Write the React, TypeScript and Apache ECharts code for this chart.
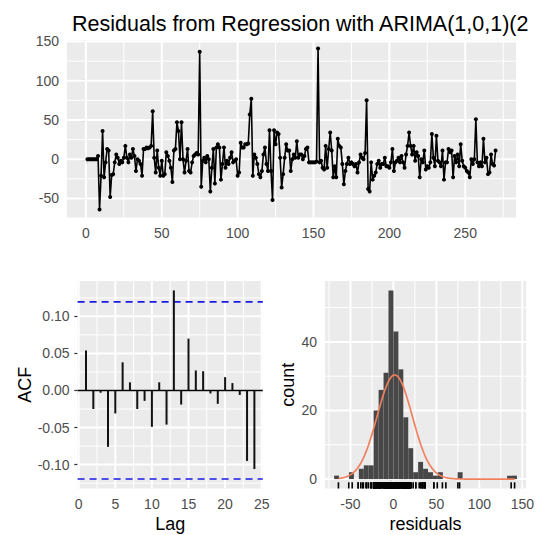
import React, { useEffect, useRef } from "react";
import * as echarts from "echarts";

// ---------- data ----------
const TITLE = "Residuals from Regression with ARIMA(1,0,1)(2";

const RESIDUALS = [
  0, 0, 0, 0, 0, 0, 0,
  4, -64, -21, 36, -23, -4, 13, 11, -48, -20,
  -19, -4, 6, 2, -6, -2, -4, 2, 17, 2,
  -4, 6, 2, 13, 4, -15, 0, -2, -6, -21,
  13, 13, 15, 14, 15, 17, 61, 2, -17, 11,
  -11, -21, -2, -21, -19, 9, 4, -2, -11, -29,
  11, 13, 47, 36, 0, 47, 0, -17, -2, 13,
  -15, -17, -4, 4, 6, 8, 6, 137, -35, -2,
  2, -4, 4, 0, -41, -11, 13, -31, 15, 19,
  15, -26, -6, 15, -11, -2, -6, 2, 9, -4,
  -2, 0, -21, -17, 21, 15, 15, 19, 19, 20,
  57, 77, -21, 6, 2, -6, -19, -23, -15, 6,
  15, -6, -15, 37, -15, -52, 37, 19, 34, 32,
  2, -36, -19, 2, 19, 11, 11, -15, 0, 6,
  2, 23, 2, 6, 6, 0, 4, 13, 15, -4,
  -4, -4, -4, -4, -3, 141, -4, -2, -11, -13,
  17, -11, 13, 34, 11, -23, -9, -23, 26, 17,
  15, -6, -32, -15, -6, 2, -6, -4, -6, -9,
  -6, -17, -4, 6, 2, 0, 8, 75, -38, -41,
  -4, -26, -21, -17, -6, -2, -11, -6, -6, 2,
  -9, -9, -11, -4, 13, -15, -4, -2, 2, -4,
  4, -4, -11, 6, 17, 34, 17, 6, 17, -2,
  9, 4, -23, 0, -4, 11, -13, -9, -11, -4,
  32, 2, -9, 30, -2, -4, -9, 11, -26, -4,
  -4, 13, 9, 11, -23, 4, -4, 6, -9, 19,
  -2, -9, -11, -15, -17, -23, 0, -6, 0, 51,
  -4, -9, -4, -9, 26, -4, 2, -19, -17, 6, -6, -8, 11,
];
const TIME_TICKS = [0, 50, 100, 150, 200, 250];
const TIME_MINOR = [25, 75, 125, 175, 225, 275];
const RESID_TICKS = [-50, 0, 50, 100, 150];
const RESID_MINOR = [-25, 25, 75, 125];

const ACF_LAGS = [1, 2, 3, 4, 5, 6, 7, 8, 9, 10, 11, 12, 13, 14, 15, 16, 17, 18, 19, 20, 21, 22, 23, 24];
const ACF_VALUES = [
  0.054, -0.025, -0.003, -0.076, -0.031, 0.038, 0.011, -0.025, -0.014, -0.049, 0.011, -0.046,
  0.135, -0.019, 0.070, 0.027, 0.026, -0.004, -0.018, 0.018, 0.010, -0.006, -0.095, -0.106,
];
const ACF_BOUND = 0.1195;
const LAG_TICKS = [0, 5, 10, 15, 20, 25];
const LAG_MINOR = [2.5, 7.5, 12.5, 17.5, 22.5];
const ACF_TICKS = [-0.1, -0.05, 0, 0.05, 0.1];
const ACF_MINOR = [-0.125, -0.075, -0.025, 0.025, 0.075, 0.125];

const HIST_BIN_WIDTH = 5.75;
const HIST_FIRST_BIN = -12;
const HIST_COUNTS = [
  1, 0, 0, 2, 0, 3, 4, 4, 20, 26, 31, 55, 43, 32, 18, 9, 2, 5, 3, 2, 1, 2,
  0, 0, 0, 2, 0, 0, 0, 0, 0, 0, 0, 0, 0, 1, 1,
];
const HIST_X_TICKS = [-50, 0, 50, 100, 150];
const HIST_X_MINOR = [-75, -25, 25, 75, 125];
const HIST_Y_TICKS = [0, 20, 40];
const HIST_Y_MINOR = [10, 30, 50];
const NORMAL_MEAN = 1.5;
const NORMAL_SD = 20.4;

// ---------- helpers ----------
const FONT = "'Liberation Sans', Arial, Helvetica, sans-serif";
const expand = (lo: number, hi: number): [number, number] => {
  const d = (hi - lo) * 0.05;
  return [lo - d, hi + d];
};

export default function App() {
  const ref = useRef<HTMLDivElement>(null);

  useEffect(() => {
    if (!ref.current) return;
    const chart = echarts.init(ref.current, undefined, { renderer: "svg" });

    const n = RESIDUALS.length;
    const rMin = Math.min(...RESIDUALS);
    const rMax = Math.max(...RESIDUALS);
    const [tx0, tx1] = expand(1, n);
    const [ty0, ty1] = expand(rMin, rMax);

    const [ax0, ax1] = expand(ACF_LAGS[0], ACF_LAGS[ACF_LAGS.length - 1]);
    const [ay0, ay1] = expand(
      Math.min(...ACF_VALUES, -ACF_BOUND),
      Math.max(...ACF_VALUES, ACF_BOUND)
    );

    const bins = HIST_COUNTS.map((c, i) => [
      (HIST_FIRST_BIN + i) * HIST_BIN_WIDTH,
      (HIST_FIRST_BIN + i + 1) * HIST_BIN_WIDTH,
      c,
    ]);
    const [hx0, hx1] = expand(
      Math.min(bins[0][0], rMin),
      Math.max(bins[bins.length - 1][1], rMax)
    );
    const [hy0, hy1] = expand(0, Math.max(...HIST_COUNTS));

    // normal density scaled to counts
    const nx0 = Math.min(NORMAL_MEAN - 3 * NORMAL_SD, rMin);
    const nx1 = Math.max(NORMAL_MEAN + 3 * NORMAL_SD, rMax);
    const normal: number[][] = [];
    for (let i = 0; i < 200; i++) {
      const x = nx0 + ((nx1 - nx0) * i) / 199;
      const z = (x - NORMAL_MEAN) / NORMAL_SD;
      const y = (n * HIST_BIN_WIDTH * Math.exp(-0.5 * z * z)) / (NORMAL_SD * Math.sqrt(2 * Math.PI));
      normal.push([x, y]);
    }

    const gridLines = (xMaj: number[], xMin: number[], yMaj: number[], yMin: number[]) => [
      ...xMin.map((v) => [v, 0, 0]),
      ...yMin.map((v) => [v, 1, 0]),
      ...xMaj.map((v) => [v, 0, 1]),
      ...yMaj.map((v) => [v, 1, 1]),
    ];
    const gridSeries = (idx: number, data: number[][], xRef: number, yRef: number) => ({
      type: "custom",
      xAxisIndex: idx,
      yAxisIndex: idx,
      z: 1,
      silent: true,
      data,
      renderItem: (params: any, api: any) => {
        const v = api.value(0);
        const orient = api.value(1);
        const major = api.value(2);
        const cs = params.coordSys;
        const style = { stroke: "#ffffff", lineWidth: major ? 2 : 1 };
        if (orient === 0) {
          const x = api.coord([v, yRef])[0];
          return { type: "line", shape: { x1: x, y1: cs.y, x2: x, y2: cs.y + cs.height }, style };
        }
        const y = api.coord([xRef, v])[1];
        return { type: "line", shape: { x1: cs.x, y1: y, x2: cs.x + cs.width, y2: y }, style };
      },
    });

    const axisCommon = (idx: number, min: number, max: number, ticks: number[], fmt?: (v: number) => string) => ({
      type: "value",
      gridIndex: idx,
      min,
      max,
      splitLine: { show: false },
      axisLine: { show: false },
      axisTick: { show: true, length: 4.4, customValues: ticks, lineStyle: { color: "#333333", width: 1.2 } },
      axisLabel: {
        customValues: ticks,
        color: "#4D4D4D",
        fontSize: 14,
        fontFamily: FONT,
        margin: 8,
        hideOverlap: false,
        formatter: fmt ? (v: number) => fmt(v) : (v: number) => String(v),
      },
      nameTextStyle: { fontSize: 18, color: "#000", fontFamily: FONT },
    });

    const grids = [
      { left: 67, top: 40.5, width: 449, height: 177 },
      { left: 77.6, top: 281, width: 185.2, height: 207.5 },
      { left: 325, top: 281, width: 203.6, height: 207.5 },
    ].map((g) => ({ ...g, show: true, backgroundColor: "#EBEBEB", borderWidth: 0, containLabel: false }));

    const option: any = {
      animation: false,
      backgroundColor: "#ffffff",
      title: {
        text: TITLE,
        left: 67,
        top: 8,
        textStyle: { fontSize: 21.5, fontWeight: "normal", color: "#000", fontFamily: FONT },
      },
      grid: grids,
      xAxis: [
        axisCommon(0, tx0, tx1, TIME_TICKS),
        { ...axisCommon(1, ax0, ax1, LAG_TICKS), name: "Lag", nameLocation: "middle", nameGap: 26 },
        { ...axisCommon(2, hx0, hx1, HIST_X_TICKS), name: "residuals", nameLocation: "middle", nameGap: 26 },
      ],
      yAxis: [
        axisCommon(0, ty0, ty1, RESID_TICKS),
        {
          ...axisCommon(1, ay0, ay1, ACF_TICKS, (v) => v.toFixed(2)),
          name: "ACF",
          nameLocation: "middle",
          nameGap: 44,
        },
        { ...axisCommon(2, hy0, hy1, HIST_Y_TICKS), name: "count", nameLocation: "middle", nameGap: 28 },
      ],
      series: [
        gridSeries(0, gridLines(TIME_TICKS, TIME_MINOR, RESID_TICKS, RESID_MINOR), 0, 0),
        gridSeries(1, gridLines(LAG_TICKS, LAG_MINOR, ACF_TICKS, ACF_MINOR), 0, 0),
        gridSeries(2, gridLines(HIST_X_TICKS, HIST_X_MINOR, HIST_Y_TICKS, HIST_Y_MINOR), 0, 0),
        {
          type: "line",
          xAxisIndex: 0,
          yAxisIndex: 0,
          z: 3,
          data: RESIDUALS.map((v, i) => [i + 1, v]),
          symbol: "circle",
          symbolSize: 4,
          showSymbol: true,
          itemStyle: { color: "#000000" },
          lineStyle: { color: "#000000", width: 1.6 },
          silent: true,
        },
        {
          type: "custom",
          xAxisIndex: 1,
          yAxisIndex: 1,
          z: 3,
          silent: true,
          data: [
            [0, 0],
            [ACF_BOUND, 1],
            [-ACF_BOUND, 1],
          ],
          renderItem: (params: any, api: any) => {
            const cs = params.coordSys;
            const y = api.coord([0, api.value(0)])[1];
            const dashed = api.value(1) === 1;
            return {
              type: "line",
              shape: { x1: cs.x, y1: y, x2: cs.x + cs.width, y2: y },
              style: dashed
                ? { stroke: "#1a1ae6", lineWidth: 1.6, lineDash: [7, 5] }
                : { stroke: "#000000", lineWidth: 1.4 },
            };
          },
        },
        {
          type: "custom",
          xAxisIndex: 1,
          yAxisIndex: 1,
          z: 4,
          silent: true,
          data: ACF_LAGS.map((l, i) => [l, ACF_VALUES[i]]),
          renderItem: (params: any, api: any) => {
            const p0 = api.coord([api.value(0), 0]);
            const p1 = api.coord([api.value(0), api.value(1)]);
            return {
              type: "line",
              shape: { x1: p0[0], y1: p0[1], x2: p1[0], y2: p1[1] },
              style: { stroke: "#111111", lineWidth: 2 },
            };
          },
        },
        {
          type: "custom",
          xAxisIndex: 2,
          yAxisIndex: 2,
          z: 3,
          silent: true,
          data: bins.filter((b) => b[2] > 0),
          renderItem: (params: any, api: any) => {
            const p1 = api.coord([api.value(0), api.value(2)]);
            const p2 = api.coord([api.value(1), 0]);
            return {
              type: "rect",
              shape: { x: p1[0], y: p1[1], width: p2[0] - p1[0], height: p2[1] - p1[1] },
              style: { fill: "#474747" },
            };
          },
        },
        {
          type: "custom",
          xAxisIndex: 2,
          yAxisIndex: 2,
          z: 4,
          silent: true,
          data: RESIDUALS.map((v) => [v, 0]),
          renderItem: (params: any, api: any) => {
            const cs = params.coordSys;
            const x = api.coord([api.value(0), 0])[0];
            const yb = cs.y + cs.height;
            return {
              type: "line",
              shape: { x1: x, y1: yb, x2: x, y2: yb - cs.height * 0.03 },
              style: { stroke: "#000000", lineWidth: 1.6 },
            };
          },
        },
        {
          type: "line",
          xAxisIndex: 2,
          yAxisIndex: 2,
          z: 5,
          data: normal,
          showSymbol: false,
          symbol: "none",
          lineStyle: { color: "#f07f5e", width: 1.7 },
          silent: true,
        },
      ],
    };

    chart.setOption(option);
    return () => chart.dispose();
  }, []);

  return (
    <div
      ref={ref}
      style={{ position: "fixed", left: 0, top: 0, width: 537, height: 535, background: "#fff" }}
    />
  );
}
